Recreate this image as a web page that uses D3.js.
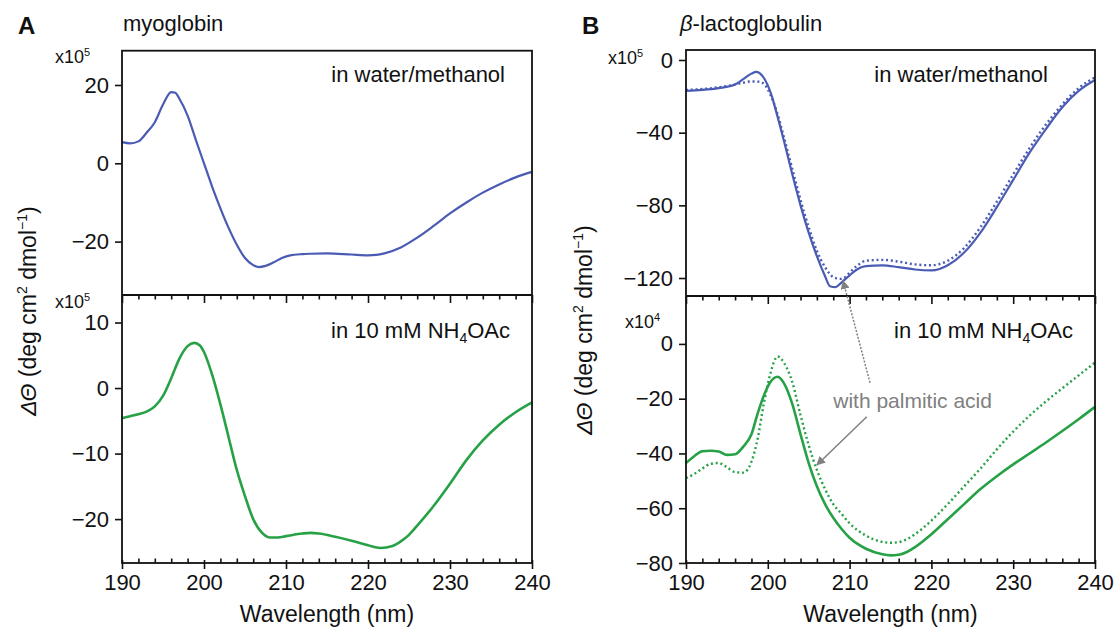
<!DOCTYPE html>
<html lang="en">
  <head>
    <meta charset="UTF-8" />
    <title>CD spectra</title>
    <script src="https://d3js.org/d3.v7.min.js"></script>
    <style>
      body { margin: 0; background: #fff; }
      text { font-family: "Liberation Sans", Arial, sans-serif; fill: #111; }
    </style>
  </head>
  <body>
    <script>
      // ---- data ----
      const majorTicks = [190, 200, 210, 220, 230, 240];
      const minorTicks = d3.range(192, 240, 2).filter(d => d % 10 !== 0);

      // myoglobin, water/methanol (x10^5)
      const myoWaterWl = [190, 191, 192, 193, 194, 195, 196, 196.5, 197, 198, 199, 200, 201, 202, 203, 204, 205, 206, 206.7, 207.5, 208.5, 209.5, 210.5, 212, 213, 215, 218, 220, 221, 222, 224, 226, 228, 230, 232, 234, 236, 238, 240];
      const myoWaterVal = [5.4, 5.1, 5.6, 7.8, 10.5, 15, 18.2, 18, 16.5, 12.2, 6, 0, -6, -11.5, -16.5, -20.8, -24.2, -26, -26.5, -26.2, -25.3, -24.2, -23.5, -23.2, -23.1, -23, -23.3, -23.5, -23.4, -23, -21.5, -19, -16, -12.8, -10, -7.5, -5.4, -3.6, -2.2];

      // myoglobin, 10 mM NH4OAc (x10^5)
      const myoSaltWl = [190, 191, 192, 193, 194, 195, 196, 197, 198, 198.8, 199.5, 200, 201, 202, 203, 204, 205, 206, 207, 208, 209, 210, 212, 213, 214, 216, 218, 220, 221.5, 223, 224, 225, 226, 228, 230, 232, 234, 236, 238, 240];
      const myoSaltVal = [-4.6, -4.3, -4, -3.6, -2.8, -1.2, 1.5, 4.5, 6.4, 6.9, 6.5, 5.5, 2, -2.5, -7.5, -12.5, -16.5, -20, -22, -22.8, -22.8, -22.6, -22.2, -22.1, -22.2, -22.7, -23.3, -24, -24.4, -24.1, -23.4, -22.4, -21, -18, -14.6, -11, -8, -5.6, -3.7, -2.2];

      // beta-lactoglobulin, water/methanol (x10^5)
      const blgWaterWl = [190, 192, 194, 196, 197, 198, 198.6, 199.3, 200, 200.5, 201, 202, 203, 204, 205, 206, 207, 207.6, 208.3, 209, 210, 211, 212, 214, 216, 218, 220, 221, 222, 224, 226, 228, 230, 232, 234, 236, 238, 240];
      const blgWaterVal = [-17, -16.5, -15.5, -13.5, -10.5, -7.5, -6.5, -8.5, -14, -20, -28, -45, -63, -80, -95, -108, -119, -124.5, -125, -122.5, -118.5, -115, -113.5, -113, -114, -115.3, -115.8, -115, -113, -106, -95, -81, -66, -51, -38, -26, -17, -11];
      const blgWaterPaWl = [190, 192, 194, 196, 197, 198, 199, 199.7, 200.3, 201, 202, 203, 204, 205, 206, 207, 208, 208.8, 209.5, 210, 211, 212, 214, 216, 218, 220, 221, 222, 224, 226, 228, 230, 232, 234, 236, 238, 240];
      const blgWaterPaVal = [-16.5, -16, -15, -13.5, -12.5, -11.8, -12, -14, -19, -27, -43, -60, -77, -92, -105, -114, -119.5, -120.5, -119.5, -117, -113, -110.5, -110, -111, -112.5, -113, -112.3, -110.5, -103.5, -92, -78, -63, -48.5, -35.5, -24.5, -15.5, -9.5];

      // beta-lactoglobulin, 10 mM NH4OAc (x10^4)
      const blgSaltWl = [190, 191, 192, 193, 194, 195, 196, 197, 198, 198.7, 199.5, 200.3, 201.2, 202, 203, 204, 205, 206, 207, 208, 209, 210, 212, 214, 215, 216, 217, 218, 220, 222, 224, 226, 228, 230, 232, 234, 236, 238, 240];
      const blgSaltVal = [-43.5, -41, -39.2, -39, -39.3, -40.5, -40.3, -37.5, -33, -26, -19, -14, -12, -14.5, -22, -33, -43.5, -52, -58.5, -63.5, -67.5, -70.8, -74.8, -76.8, -77.2, -77, -76, -74.2, -69.5, -64, -58.5, -53, -48.3, -44, -40, -36, -31.8, -27.5, -23];
      const blgSaltPaWl = [190, 191, 192, 193, 194, 195, 196, 197, 198, 198.8, 199.5, 200.3, 201.2, 202, 203, 204, 205, 206, 207, 208, 209, 210, 212, 214, 215, 216, 217, 218, 220, 222, 224, 226, 228, 230, 232, 234, 236, 238, 240];
      const blgSaltPaVal = [-49, -47.5, -45.5, -43.8, -43.5, -45, -46.8, -47, -43, -34, -22, -11, -4.6, -7, -14, -26, -37, -46, -53, -58.5, -62, -65.5, -70, -72.3, -72.6, -72.4, -71.3, -69.5, -64.5, -58.5, -52, -45.5, -38.5, -32, -26.2, -21, -16.2, -11.5, -6.8];

      const width = 1117;
      const height = 634;
      const blue = "#4a5bb3";
      const green = "#27a146";
      const grey = "#808080";

      const svg = d3.select("body").append("svg")
        .attr("width", width)
        .attr("height", height);

      svg.append("defs").append("marker")
        .attr("id", "arrow")
        .attr("viewBox", "0 0 10 10")
        .attr("refX", 9).attr("refY", 5)
        .attr("markerWidth", 9).attr("markerHeight", 9)
        .attr("markerUnits", "userSpaceOnUse")
        .attr("orient", "auto")
        .append("path")
        .attr("d", "M0,0 L10,5 L0,10 Z")
        .attr("fill", grey);

      const toPts = (wl, val) => wl.map((w, i) => [w, val[i]]);

      // one panel = two stacked sub-plots sharing the wavelength axis
      function panel(opt) {
        const x = d3.scaleLinear().domain([190, 240]).range([opt.left, opt.right]);
        const yTop = d3.scaleLinear().domain(opt.topDomain).range([opt.top, opt.mid]);
        const yBot = d3.scaleLinear().domain(opt.botDomain).range([opt.mid, opt.bottom]);
        const g = svg.append("g");
        const fmt = d3.format("d");

        const line = y => d3.line()
          .x(d => x(d[0]))
          .y(d => y(d[1]))
          .curve(d3.curveMonotoneX);

        opt.topSeries.forEach(s => {
          g.append("path")
            .attr("d", line(yTop)(s.pts))
            .attr("fill", "none")
            .attr("stroke", blue)
            .attr("stroke-width", s.dotted ? 2.4 : 2.2)
            .attr("stroke-dasharray", s.dotted ? "2,2.8" : null);
        });
        opt.botSeries.forEach(s => {
          g.append("path")
            .attr("d", line(yBot)(s.pts))
            .attr("fill", "none")
            .attr("stroke", green)
            .attr("stroke-width", s.dotted ? 2.4 : 2.6)
            .attr("stroke-dasharray", s.dotted ? "2,2.8" : null);
        });

        // frame
        g.append("rect")
          .attr("x", opt.left).attr("y", opt.top)
          .attr("width", opt.right - opt.left)
          .attr("height", opt.bottom - opt.top)
          .attr("fill", "none")
          .attr("stroke", "#111")
          .attr("stroke-width", 1.8);

        // y axes
        const yAxis = (scale, ticks) => g.append("g")
          .attr("transform", `translate(${opt.left},0)`)
          .call(d3.axisLeft(scale).tickValues(ticks).tickSize(7).tickPadding(6).tickFormat(fmt))
          .call(a => a.select(".domain").remove())
          .call(a => a.selectAll("line").attr("stroke", "#111").attr("stroke-width", 1.6))
          .call(a => a.selectAll("text").style("font-size", "22px").attr("fill", "#111"));
        yAxis(yTop, opt.topTicks);
        yAxis(yBot, opt.botTicks);

        // divider with ticks pointing down
        const tickRow = (y, vals, size) => g.append("g")
          .attr("transform", `translate(0,${y})`)
          .call(d3.axisBottom(x).tickValues(vals).tickSize(size).tickFormat(""))
          .call(a => a.select(".domain").remove())
          .call(a => a.selectAll("line").attr("stroke", "#111").attr("stroke-width", 1.6));
        tickRow(opt.mid, majorTicks, 8);
        tickRow(opt.mid, minorTicks, 4.5);
        g.append("line")
          .attr("x1", opt.left).attr("x2", opt.right)
          .attr("y1", opt.mid).attr("y2", opt.mid)
          .attr("stroke", "#111").attr("stroke-width", 1.8);

        // bottom axis
        tickRow(opt.bottom, minorTicks, -4.5);
        tickRow(opt.bottom - 3, majorTicks, 9);
        g.append("g")
          .attr("transform", `translate(0,${opt.bottom})`)
          .call(d3.axisBottom(x).tickValues(majorTicks).tickSize(6).tickPadding(5).tickFormat(fmt))
          .call(a => a.select(".domain").remove())
          .call(a => a.selectAll("line").remove())
          .call(a => a.selectAll("text").style("font-size", "22px").attr("fill", "#111"));

        g.append("text")
          .attr("x", (opt.left + opt.right) / 2)
          .attr("y", 622)
          .attr("text-anchor", "middle")
          .style("font-size", "23px")
          .text("Wavelength (nm)");

        // panel letter and title
        g.append("text")
          .attr("x", opt.left - 104).attr("y", 34)
          .style("font-size", "24px").style("font-weight", "bold")
          .text(opt.letter);
        const title = g.append("text")
          .attr("x", opt.titleX).attr("y", 31)
          .style("font-size", "22px");
        opt.title(title);

        // multipliers
        const mult = (xx, yy, exp) => {
          const t = g.append("text").attr("x", xx).attr("y", yy).style("font-size", "18px");
          t.append("tspan").text("x10");
          t.append("tspan").attr("dy", -7).style("font-size", "11px").text(exp);
        };
        mult(opt.multX[0], opt.multY[0], opt.multExp[0]);
        mult(opt.multX[1], opt.multY[1], opt.multExp[1]);

        // condition labels
        g.append("text")
          .attr("x", opt.labelEnd[0]).attr("y", 82)
          .attr("text-anchor", "end")
          .style("font-size", "22px")
          .text("in water/methanol");
        const t2 = g.append("text")
          .attr("x", opt.labelEnd[1]).attr("y", 338)
          .attr("text-anchor", "end")
          .style("font-size", "22px");
        t2.append("tspan").text("in 10 mM NH");
        t2.append("tspan").attr("dy", 5).style("font-size", "14px").text("4");
        t2.append("tspan").attr("dy", -5).text("OAc");

        // y-axis title
        const yt = g.append("text")
          .attr("transform", `translate(${opt.yTitleX},${opt.yTitleY}) rotate(-90)`)
          .attr("text-anchor", "middle")
          .style("font-size", "23px");
        yt.append("tspan").style("font-style", "italic").text("ΔΘ");
        yt.append("tspan").text(" (deg cm");
        yt.append("tspan").attr("dy", -9).style("font-size", "14px").text("2");
        yt.append("tspan").attr("dy", 9).text(" dmol");
        yt.append("tspan").attr("dy", -9).style("font-size", "14px").text("−1");
        yt.append("tspan").attr("dy", 9).text(")");

        return { x, yTop, yBot, g };
      }

      panel({
        letter: "A",
        left: 122, right: 532, top: 50.7, mid: 295, bottom: 563,
        topDomain: [28.76, -33.64], botDomain: [14.2, -26.7],
        topTicks: [20, 0, -20], botTicks: [10, 0, -10, -20],
        topSeries: [{ pts: toPts(myoWaterWl, myoWaterVal) }],
        botSeries: [{ pts: toPts(myoSaltWl, myoSaltVal) }],
        titleX: 123,
        title: t => t.text("myoglobin"),
        multX: [55, 55], multY: [63, 308], multExp: ["5", "5"],
        labelEnd: [505, 510],
        yTitleX: 36, yTitleY: 311
      });

      const pB = panel({
        letter: "B",
        left: 686, right: 1095, top: 50, mid: 296, bottom: 563,
        topDomain: [5.5, -129.9], botDomain: [17.5, -80],
        topTicks: [0, -40, -80, -120], botTicks: [0, -20, -40, -60, -80],
        topSeries: [
          { pts: toPts(blgWaterWl, blgWaterVal) },
          { pts: toPts(blgWaterPaWl, blgWaterPaVal), dotted: true }
        ],
        botSeries: [
          { pts: toPts(blgSaltWl, blgSaltVal) },
          { pts: toPts(blgSaltPaWl, blgSaltPaVal), dotted: true }
        ],
        titleX: 680,
        title: t => {
          t.append("tspan").style("font-style", "italic").text("β");
          t.append("tspan").text("-lactoglobulin");
        },
        multX: [608, 625], multY: [64, 328], multExp: ["5", "4"],
        labelEnd: [1048, 1073],
        yTitleX: 592, yTitleY: 330
      });

      // annotation: "with palmitic acid" (wavelength, value in bottom-panel units)
      const noteAt = [208.0, -23.4];
      const arrowUpFrom = [212.5, -14.2];   // bottom scale
      const arrowUpTo = [209.2, -121.6];    // top scale
      const arrowDownFrom = [212.1, -26.6]; // bottom scale
      const arrowDownTo = [206.0, -44.2];   // bottom scale

      pB.g.append("text")
        .attr("x", pB.x(noteAt[0])).attr("y", pB.yBot(noteAt[1]))
        .style("font-size", "21px")
        .style("fill", grey)
        .text("with palmitic acid");
      pB.g.append("line")
        .attr("x1", pB.x(arrowUpFrom[0])).attr("y1", pB.yBot(arrowUpFrom[1]))
        .attr("x2", pB.x(arrowUpTo[0])).attr("y2", pB.yTop(arrowUpTo[1]))
        .attr("stroke", grey).attr("stroke-width", 1.5)
        .attr("stroke-dasharray", "2,1.5")
        .attr("marker-end", "url(#arrow)");
      pB.g.append("line")
        .attr("x1", pB.x(arrowDownFrom[0])).attr("y1", pB.yBot(arrowDownFrom[1]))
        .attr("x2", pB.x(arrowDownTo[0])).attr("y2", pB.yBot(arrowDownTo[1]))
        .attr("stroke", grey).attr("stroke-width", 1.5)
        .attr("marker-end", "url(#arrow)");
    </script>
  </body>
</html>
